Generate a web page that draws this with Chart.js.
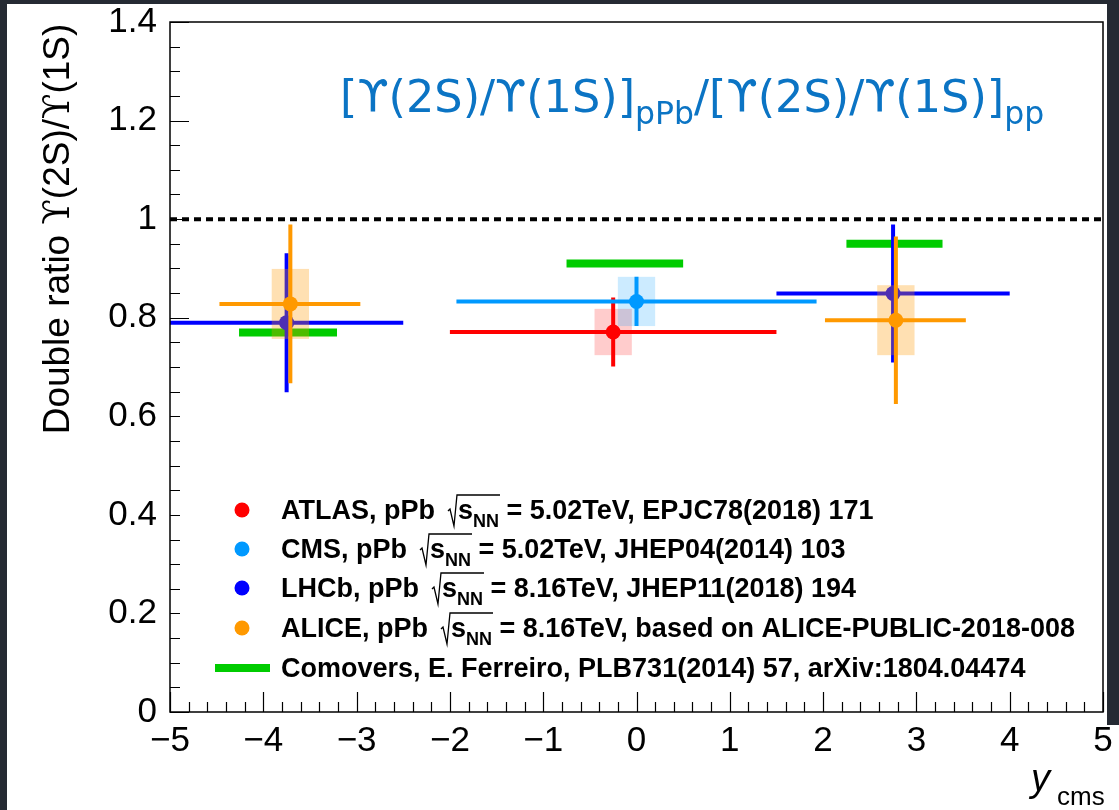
<!DOCTYPE html>
<html>
<head>
<meta charset="utf-8">
<script src="https://cdn.jsdelivr.net/npm/chart.js@4.4.1/dist/chart.umd.min.js"></script>
<style>
  html, body { margin: 0; padding: 0; background: #252a33; }
  #paper { position: absolute; left: 7px; top: 4px; width: 1100px; height: 806px; background: #fff; }
  #paperFoot { position: absolute; left: 1100px; top: 725px; width: 19px; height: 85px; background: #fff; }
  #wrap { position: absolute; left: 0; top: 0; width: 1119px; height: 810px; }
</style>
</head>
<body>
<div id="paper"></div>
<div id="paperFoot"></div>
<div id="wrap"><canvas id="ratioChart" width="1119" height="810"></canvas></div>
<script>
// double ratio vs y_cms
const atlasX = [-0.25];
const atlasY = [0.771];
const atlasXLow = [-2.0];
const atlasXHigh = [1.5];
const atlasStat = [0.07];
const atlasSyst = [0.047];

const cmsX = [0.0];
const cmsY = [0.833];
const cmsXLow = [-1.93];
const cmsXHigh = [1.93];
const cmsStat = [0.05];
const cmsSyst = [0.05];

const lhcbX = [-3.75, 2.75];
const lhcbY = [0.790, 0.849];
const lhcbXLow = [-5.0, 1.5];
const lhcbXHigh = [-2.5, 4.0];
const lhcbStat = [0.141, 0.14];
const lhcbSyst = [0, 0];

const aliceX = [-3.71, 2.78];
const aliceY = [0.828, 0.795];
const aliceXLow = [-4.47, 2.02];
const aliceXHigh = [-2.96, 3.53];
const aliceStat = [0.161, 0.17];
const aliceSyst = [0.071, 0.071];

const comoverXLow = [-4.26, -0.75, 2.25];
const comoverXHigh = [-3.21, 0.50, 3.28];
const comoverY = [0.770, 0.910, 0.950];

const legendNames = ['ATLAS, pPb', 'CMS, pPb', 'LHCb, pPb', 'ALICE, pPb'];
const legendEnergies = ['5.02TeV', '5.02TeV', '8.16TeV', '8.16TeV'];
const legendRefs = ['EPJC78(2018) 171', 'JHEP04(2014) 103', 'JHEP11(2018) 194', 'based on ALICE-PUBLIC-2018-008'];
const comoverLabel = 'Comovers, E. Ferreiro, PLB731(2014) 57, arXiv:1804.04474';

const sysHalfWidth = 0.2;
const helv = '"Liberation Sans", "DejaVu Sans", Arial, sans-serif';
const upsFont = '"DejaVu Serif", serif';

const experiments = [
    { label: 'ATLAS', color: '#ff0000', box: 'rgba(255,0,0,0.2)', x: atlasX, y: atlasY, lo: atlasXLow, hi: atlasXHigh, stat: atlasStat, syst: atlasSyst, order: 4 },
    { label: 'CMS', color: '#0099ff', box: 'rgba(0,153,255,0.2)', x: cmsX, y: cmsY, lo: cmsXLow, hi: cmsXHigh, stat: cmsStat, syst: cmsSyst, order: 3 },
    { label: 'LHCb', color: '#0000ff', box: 'rgba(0,0,255,0.2)', x: lhcbX, y: lhcbY, lo: lhcbXLow, hi: lhcbXHigh, stat: lhcbStat, syst: lhcbSyst, order: 2 },
    { label: 'ALICE', color: '#ff9900', box: 'rgba(255,153,0,0.3)', x: aliceX, y: aliceY, lo: aliceXLow, hi: aliceXHigh, stat: aliceStat, syst: aliceSyst, order: 1 }
];

function measureParts(ctx, parts) {
    return parts.reduce((w, p) => { ctx.font = p.font; return w + ctx.measureText(p.t).width; }, 0);
}

function drawSubText(ctx, x, baseline, parts) {
    parts.forEach(p => {
        ctx.font = p.font;
        ctx.fillText(p.t, x, baseline + (p.dy || 0));
        x += ctx.measureText(p.t).width;
    });
    return x;
}

const hepPlot = {
    id: 'hepPlot',
    beforeDatasetsDraw(chart) {
        const { ctx, chartArea: a, scales: { x, y } } = chart;
        ctx.save();
        ctx.strokeStyle = '#000';
        ctx.lineWidth = 1.2;
        ctx.beginPath();
        for (let v = -5; v <= 5.001; v += 0.2) {
            const px = Math.round(x.getPixelForValue(v)) + 0.5;
            const major = Math.abs(v - Math.round(v)) < 0.01;
            ctx.moveTo(px, a.bottom);
            ctx.lineTo(px, a.bottom - (major ? 20 : 10));
        }
        for (let v = 0; v <= 1.4001; v += 0.05) {
            const py = Math.round(y.getPixelForValue(v)) + 0.5;
            const major = Math.abs(v / 0.2 - Math.round(v / 0.2)) < 0.01;
            ctx.moveTo(a.left, py);
            ctx.lineTo(a.left + (major ? 19 : 10), py);
        }
        ctx.stroke();

        // unity reference
        ctx.setLineDash([7, 5]);
        ctx.lineWidth = 4;
        ctx.beginPath();
        ctx.moveTo(a.left, y.getPixelForValue(1));
        ctx.lineTo(a.right, y.getPixelForValue(1));
        ctx.stroke();
        ctx.setLineDash([]);

        // comover calculations
        ctx.strokeStyle = '#00cc00';
        ctx.lineWidth = 8;
        comoverY.forEach((v, i) => {
            ctx.beginPath();
            ctx.moveTo(x.getPixelForValue(comoverXLow[i]), y.getPixelForValue(v));
            ctx.lineTo(x.getPixelForValue(comoverXHigh[i]), y.getPixelForValue(v));
            ctx.stroke();
        });
        ctx.restore();
    },
    beforeDatasetDraw(chart, args) {
        const e = experiments[args.index];
        const { ctx, scales: { x, y } } = chart;
        ctx.save();
        e.x.forEach((xv, i) => {
            if (e.syst[i] > 0) {
                const x0 = x.getPixelForValue(xv - sysHalfWidth), x1 = x.getPixelForValue(xv + sysHalfWidth);
                const y0 = y.getPixelForValue(e.y[i] + e.syst[i]), y1 = y.getPixelForValue(e.y[i] - e.syst[i]);
                ctx.fillStyle = e.box;
                ctx.fillRect(x0, y0, x1 - x0, y1 - y0);
            }
            ctx.strokeStyle = e.color;
            ctx.lineWidth = 4;
            ctx.beginPath();
            ctx.moveTo(x.getPixelForValue(e.lo[i]), y.getPixelForValue(e.y[i]));
            ctx.lineTo(x.getPixelForValue(e.hi[i]), y.getPixelForValue(e.y[i]));
            ctx.moveTo(x.getPixelForValue(xv), y.getPixelForValue(e.y[i] + e.stat[i]));
            ctx.lineTo(x.getPixelForValue(xv), y.getPixelForValue(e.y[i] - e.stat[i]));
            ctx.stroke();
        });
        ctx.restore();
    },
    afterDatasetsDraw(chart) {
        const { ctx, chartArea: a } = chart;
        ctx.save();

        // legend pad
        ctx.fillStyle = '#fff';
        ctx.fillRect(a.left + 10, 408, 905, 280);
        const bold = 'bold 27px ' + helv;
        const rowY = [519, 558, 597, 637, 677];
        experiments.forEach((e, i) => {
            ctx.fillStyle = e.color;
            ctx.beginPath();
            ctx.arc(242, rowY[i] - 9, 7.5, 0, Math.PI * 2);
            ctx.fill();
            ctx.fillStyle = '#000';
            ctx.font = bold;
            let tx = 281;
            ctx.fillText(legendNames[i], tx, rowY[i]);
            tx += ctx.measureText(legendNames[i]).width + 13;
            const b = rowY[i];
            const rootX = tx;
            tx += 10;
            tx = drawSubText(ctx, tx, b, [
                { t: 's', font: bold },
                { t: 'NN', font: 'bold 18px ' + helv, dy: 8 }
            ]);
            ctx.strokeStyle = '#000';
            ctx.lineWidth = 1.3;
            ctx.beginPath();
            ctx.moveTo(rootX, b - 8);
            ctx.lineTo(rootX + 2, b - 10);
            ctx.lineTo(rootX + 6, b + 7);
            ctx.lineTo(rootX + 9, b - 24);
            ctx.lineTo(tx + 1, b - 24);
            ctx.stroke();
            ctx.font = bold;
            ctx.fillText(' = ' + legendEnergies[i] + ', ' + legendRefs[i], tx, b);
        });
        ctx.strokeStyle = '#00cc00';
        ctx.lineWidth = 8;
        ctx.beginPath();
        ctx.moveTo(215, rowY[4] - 9);
        ctx.lineTo(270, rowY[4] - 9);
        ctx.stroke();
        ctx.fillStyle = '#000';
        ctx.font = bold;
        ctx.fillText(comoverLabel, 281, rowY[4]);

        // frame
        ctx.strokeStyle = '#000';
        ctx.lineWidth = 1.5;
        ctx.strokeRect(a.left, a.top, a.right - a.left, a.bottom - a.top);

        // in-plot title
        ctx.fillStyle = '#0b74c4';
        const big = '44.6px "DejaVu Sans", sans-serif', small = '31.5px "DejaVu Sans", sans-serif';
        drawSubText(ctx, 340, 112, [
            { t: '[\u03d2(2S)/\u03d2(1S)]', font: big },
            { t: 'pPb', font: small, dy: 12 },
            { t: '/[\u03d2(2S)/\u03d2(1S)]', font: big },
            { t: 'pp', font: small, dy: 12 }
        ]);

        // axis titles
        ctx.fillStyle = '#000';
        const tf = '37px ' + helv, uf = '37px ' + upsFont;
        const yTitle = [
            { t: 'Double ratio ', font: tf }, { t: '\u03d2', font: uf }, { t: '(2S)/', font: tf },
            { t: '\u03d2', font: uf }, { t: '(1S)', font: tf }
        ];
        ctx.save();
        ctx.translate(69, 229);
        ctx.rotate(-Math.PI / 2);
        drawSubText(ctx, -measureParts(ctx, yTitle) / 2, 0, yTitle);
        ctx.restore();
        ctx.font = 'italic 38px ' + helv;
        ctx.fillText('y', 1031, 791);
        ctx.font = '26px ' + helv;
        ctx.fillText('cms', 1057, 805);
        ctx.restore();
    }
};

const ratioChart = new Chart(document.getElementById('ratioChart').getContext('2d'), {
    type: 'scatter',
    data: {
        datasets: experiments.map(e => ({
            label: e.label,
            data: e.x.map((xv, i) => ({ x: xv, y: e.y[i] })),
            backgroundColor: e.color,
            borderWidth: 0,
            pointRadius: 7.5,
            pointHoverRadius: 7.5,
            order: e.order
        }))
    },
    options: {
        responsive: false,
        animation: false,
        events: [],
        layout: { autoPadding: false, padding: { top: 22, right: 16, left: 0, bottom: 0 } },
        scales: {
            x: {
                type: 'linear', min: -5, max: 5,
                afterFit: s => { s.height = 98; s.paddingLeft = 0; s.paddingRight = 0; },
                grid: { display: false, drawTicks: false },
                border: { display: false },
                ticks: {
                    stepSize: 1, autoSkip: false, maxRotation: 0, padding: 8, color: '#000',
                    font: { family: helv, size: 35 },
                    callback: v => (v < 0 ? '\u2212' + Math.abs(v) : String(v))
                }
            },
            y: {
                min: 0, max: 1.4,
                afterFit: s => { s.width = 170; s.paddingTop = 0; s.paddingBottom = 0; },
                grid: { display: false, drawTicks: false },
                border: { display: false },
                ticks: {
                    stepSize: 0.2, padding: 13, color: '#000',
                    font: { family: helv, size: 35 },
                    callback: v => String(+v.toFixed(1))
                }
            }
        },
        plugins: { legend: { display: false }, tooltip: { enabled: false } }
    },
    plugins: [hepPlot]
});
</script>
</body>
</html>
